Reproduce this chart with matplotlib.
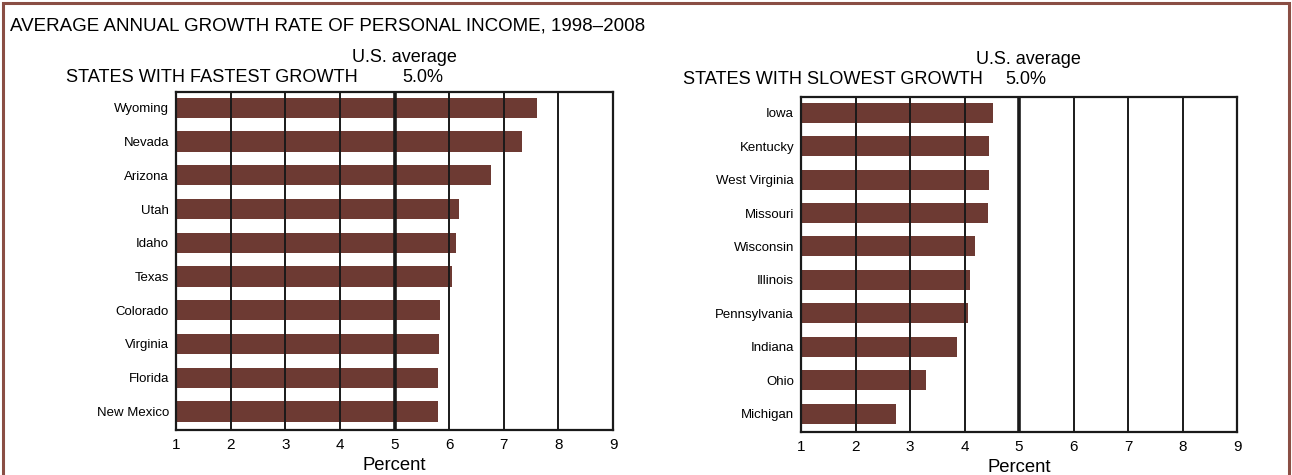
import matplotlib.pyplot as plt
from matplotlib.patches import Rectangle

fast_states = ['Wyoming', 'Nevada', 'Arizona', 'Utah', 'Idaho', 'Texas',
               'Colorado', 'Virginia', 'Florida', 'New Mexico']
fast_values = [7.6, 7.34, 6.76, 6.18, 6.13, 6.06, 5.84, 5.82, 5.8, 5.8]

slow_states = ['Iowa', 'Kentucky', 'West Virginia', 'Missouri', 'Wisconsin',
               'Illinois', 'Pennsylvania', 'Indiana', 'Ohio', 'Michigan']
slow_values = [4.52, 4.45, 4.45, 4.44, 4.2, 4.11, 4.07, 3.87, 3.3, 2.75]

us_average = 5.0
x_ticks = [1, 2, 3, 4, 5, 6, 7, 8, 9]

bar_color = '#6d3a33'
plt.rcParams['font.family'] = ['Liberation Sans', 'DejaVu Sans']

fig = plt.figure(figsize=(12.92, 4.75), dpi=100)
W, H = 1292, 475


def add_panel(px_left, px_right, px_top, px_bottom, states, values):
    ax = fig.add_axes([px_left / W, 1 - px_bottom / H,
                       (px_right - px_left) / W, (px_bottom - px_top) / H])
    pos = list(range(len(states)))
    ax.barh(pos, [v - 1 for v in values], left=1, height=0.6,
            color=bar_color, zorder=1)
    for x in x_ticks[1:-1]:
        ax.axvline(x, color='#1a1a1a', lw=2.6 if x == us_average else 1.4, zorder=2)
    ax.set_xlim(1, 9)
    ax.set_ylim(len(states) - 1 + 0.55, -0.47)
    ax.set_yticks(pos)
    ax.set_yticklabels(states, fontsize=9.5)
    ax.set_xticks(x_ticks)
    ax.set_xticklabels([str(t) for t in x_ticks], fontsize=11)
    ax.tick_params(length=0, pad=5)
    ax.tick_params(axis='x', pad=6)
    for s in ax.spines.values():
        s.set_linewidth(1.6)
        s.set_color('#1a1a1a')
    ax.set_xlabel('Percent', fontsize=13.3, labelpad=3)
    return ax


add_panel(176, 613, 92, 430, fast_states, fast_values)
add_panel(801, 1237, 97, 432, slow_states, slow_values)

fig.text(10 / W, 1 - 26 / H, 'AVERAGE ANNUAL GROWTH RATE OF PERSONAL INCOME, 1998–2008',
         fontsize=13.5, va='center', ha='left')
fig.text(66 / W, 1 - 78 / H, 'STATES WITH FASTEST GROWTH', fontsize=13.1, va='center')
fig.text(404 / W, 1 - 58 / H, 'U.S. average', fontsize=13, va='center', ha='center')
fig.text(423 / W, 1 - 78 / H, '5.0%', fontsize=13, va='center', ha='center')
fig.text(683 / W, 1 - 79 / H, 'STATES WITH SLOWEST GROWTH', fontsize=13.1, va='center')
fig.text(1028 / W, 1 - 60 / H, 'U.S. average', fontsize=13, va='center', ha='center')
fig.text(1026 / W, 1 - 79 / H, '5.0%', fontsize=13, va='center', ha='center')

fig.patches.append(Rectangle((3 / W, -0.05), 1286 / W, 1.05 - 3 / H,
                             transform=fig.transFigure, fill=False,
                             edgecolor='#8a4e44', lw=2.2))

fig.savefig('out.png', dpi=100)
